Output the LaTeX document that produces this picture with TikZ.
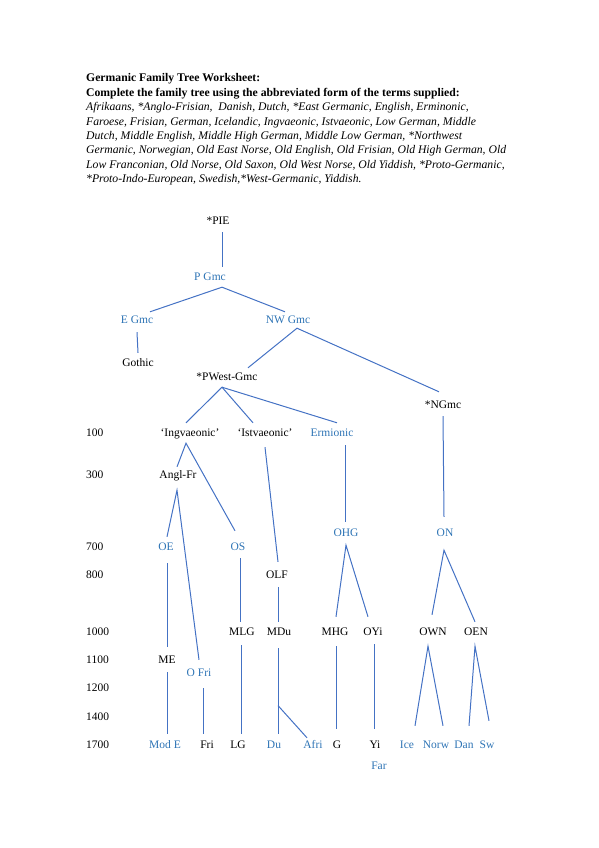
\documentclass[tikz,border=0pt]{standalone}
\usepackage{fontspec}
\setmainfont{Liberation Serif}
\definecolor{txtblue}{HTML}{2E74B5}
\definecolor{lineblue}{HTML}{4472C4}
\begin{document}
\begin{tikzpicture}[x=1pt, y=-1pt,
    lang/.style={font=\fontsize{11.5}{14}\selectfont, inner sep=3pt, text height=8pt, text depth=2pt},
    blue/.style={lang, text=txtblue},
    date/.style={lang, anchor=west, inner sep=0pt},
    link/.style={lineblue, line width=1pt}]
    \useasboundingbox (0,0) rectangle (599,848);
    % heading
    \node[anchor=north west, inner sep=0pt, align=left, font=\fontsize{11.7}{14.4}\selectfont] (head) at (86,73.5)
        {\textbf{Germanic Family Tree Worksheet:}\\
         \textbf{Complete the family tree using the abbreviated form of the terms supplied:}\\
         \textit{Afrikaans, *Anglo-Frisian,\ \ Danish, Dutch, *East Germanic, English, Erminonic,}\\
         \textit{Faroese, Frisian, German, Icelandic, Ingvaeonic, Istvaeonic, Low German, Middle}\\
         \textit{Dutch, Middle English, Middle High German, Middle Low German, *Northwest}\\
         \textit{Germanic, Norwegian, Old East Norse, Old English, Old Frisian, Old High German, Old}\\
         \textit{Low Franconian, Old Norse, Old Saxon, Old West Norse, Old Yiddish, *Proto-Germanic,}\\
         \textit{*Proto-Indo-European, Swedish,*West-Germanic, Yiddish.}};
    % dates
    \node[date] (d100) at (86,433) {100};
    \node[date] (d300) at (86,475) {300};
    \node[date] (d700) at (86,547) {700};
    \node[date] (d800) at (86,575) {800};
    \node[date] (d1000) at (86,632) {1000};
    \node[date] (d1100) at (86,660) {1100};
    \node[date] (d1200) at (86,688) {1200};
    \node[date] (d1400) at (86,717) {1400};
    \node[date] (d1700) at (86,745) {1700};
    % tree
    \node[lang] (pie) at (218,221) {*PIE};
    \node[blue] (pgmc) at (210,277) {P Gmc};
    \node[blue] (egmc) at (137,320) {E Gmc};
    \node[blue] (nwgmc) at (288,320) {NW Gmc};
    \node[lang] (gothic) at (138,363) {Gothic};
    \node[lang] (pwgmc) at (227,377) {*PWest-Gmc};
    \node[lang] (ngmc) at (443,405) {*NGmc};
    \node[lang] (ingv) at (190,433) {‘Ingvaeonic’};
    \node[lang] (istv) at (265,433) {‘Istvaeonic’};
    \node[blue] (ermi) at (332,433) {Ermionic};
    \node[lang] (anglfr) at (178,475) {Angl-Fr};
    \node[blue] (ohg) at (346,533) {OHG};
    \node[blue] (on) at (445,533) {ON};
    \node[blue] (oe) at (166,547) {OE};
    \node[blue] (os) at (238,547) {OS};
    \node[lang] (olf) at (277,575) {OLF};
    \node[lang] (mlg) at (242,632) {MLG};
    \node[lang] (mdu) at (279,632) {MDu};
    \node[lang] (mhg) at (335,632) {MHG};
    \node[lang] (oyi) at (373,632) {OYi};
    \node[lang] (own) at (433,632) {OWN};
    \node[lang] (oen) at (476,632) {OEN};
    \node[lang] (me) at (167,660) {ME};
    \node[blue] (ofri) at (199,673) {O Fri};
    \node[blue] (mode) at (165,745) {Mod E};
    \node[lang] (fri) at (207,745) {Fri};
    \node[lang] (lg) at (238,745) {LG};
    \node[blue] (du) at (274,745) {Du};
    \node[blue] (afri) at (313,745) {Afri};
    \node[lang] (g) at (337,745) {G};
    \node[lang] (yi) at (375,745) {Yi};
    \node[blue] (ice) at (407,745) {Ice};
    \node[blue] (norw) at (436,745) {Norw};
    \node[blue] (dan) at (464,745) {Dan};
    \node[blue] (sw) at (487,745) {Sw};
    \node[blue] (far) at (379,766) {Far};
    % branches
    \draw[link] ([xshift=4pt,yshift=-3pt]pie.south) -- ([xshift=12pt,yshift=2pt]pgmc.north);
    \draw[link] ([xshift=13pt]egmc.north) -- ([xshift=12pt,yshift=-2pt]pgmc.south) -- ([xshift=-3pt]nwgmc.north);
    \draw[link] ([yshift=-4pt]egmc.south) -- ([yshift=2pt]gothic.north);
    \draw[link] ([xshift=21pt,yshift=1pt]pwgmc.north) -- ([xshift=9pt]nwgmc.south) -- ([xshift=-4pt,yshift=5pt]ngmc.north);
    \draw[link] ([xshift=-4pt,yshift=2pt]ingv.north) -- ([xshift=-5pt,yshift=-2pt]pwgmc.south) -- ([xshift=-12pt,yshift=2pt]istv.north);
    \draw[link] ([xshift=-5pt,yshift=-2pt]pwgmc.south) -- ([xshift=5pt,yshift=2pt]ermi.north);
    \draw[link] ([xshift=-1pt]anglfr.north) -- ([xshift=-4pt,yshift=-2pt]ingv.south) -- ([xshift=-3pt,yshift=8pt]os.north);
    \draw[link] ([yshift=-6pt]istv.south) -- ([xshift=1pt,yshift=5pt]olf.north);
    \draw[link] ([xshift=13pt,yshift=-4pt]ermi.south) -- ([xshift=-1pt,yshift=3pt]ohg.north);
    \draw[link] ([yshift=-3pt]ngmc.south) -- ([xshift=-1pt,yshift=8pt]on.north);
    \draw[link] ([xshift=1pt,yshift=2pt]oe.north) -- ([xshift=-1pt,yshift=-7pt]anglfr.south) -- ([yshift=5pt]ofri.north);
    \draw[link] ([xshift=1pt,yshift=-8pt]oe.south) -- ([yshift=5pt]me.north);
    \draw[link] ([xshift=2pt,yshift=-3pt]os.south) -- ([xshift=-2pt,yshift=2pt]mlg.north);
    \draw[link] ([xshift=1pt,yshift=-4pt]olf.south) -- ([xshift=-1pt,yshift=2pt]mdu.north);
    \draw[link] ([xshift=1pt,yshift=7pt]mhg.north) -- ([yshift=-4pt]ohg.south) -- ([xshift=-5pt,yshift=7pt]oyi.north);
    \draw[link] ([xshift=-1pt,yshift=9pt]own.north) -- ([xshift=-1pt,yshift=-9pt]on.south) -- ([xshift=-1pt,yshift=2pt]oen.north);
    \draw[link] ([yshift=-4pt]me.south) -- ([xshift=2pt,yshift=3pt]mode.north);
    \draw[link] ([xshift=4pt,yshift=-7pt]ofri.south) -- ([xshift=-4pt,yshift=3pt]fri.north);
    \draw[link] ([xshift=-1pt,yshift=-5pt]mlg.south) -- ([xshift=3pt,yshift=3pt]lg.north);
    \draw[link] ([xshift=-1pt,yshift=-8pt]mdu.south) -- coordinate[pos=0.67] (dusplit) ([xshift=4pt,yshift=3pt]du.north);
    \draw[link] (dusplit) -- ([xshift=-6pt,yshift=-1pt]afri.north);
    \draw[link] ([xshift=1pt,yshift=-6pt]mhg.south) -- ([xshift=-1pt,yshift=8pt]g.north);
    \draw[link] ([xshift=1pt,yshift=-4pt]oyi.south) -- ([xshift=-1pt,yshift=8pt]yi.north);
    \draw[link] ([xshift=8pt,yshift=11pt]ice.north) -- ([xshift=-5pt,yshift=-6pt]own.south) -- ([xshift=7pt,yshift=11pt]norw.north);
    \draw[link] ([xshift=5pt,yshift=11pt]dan.north) -- ([xshift=-1pt,yshift=-6pt]oen.south) -- ([xshift=2pt,yshift=16pt]sw.north);
\end{tikzpicture}
\end{document}
